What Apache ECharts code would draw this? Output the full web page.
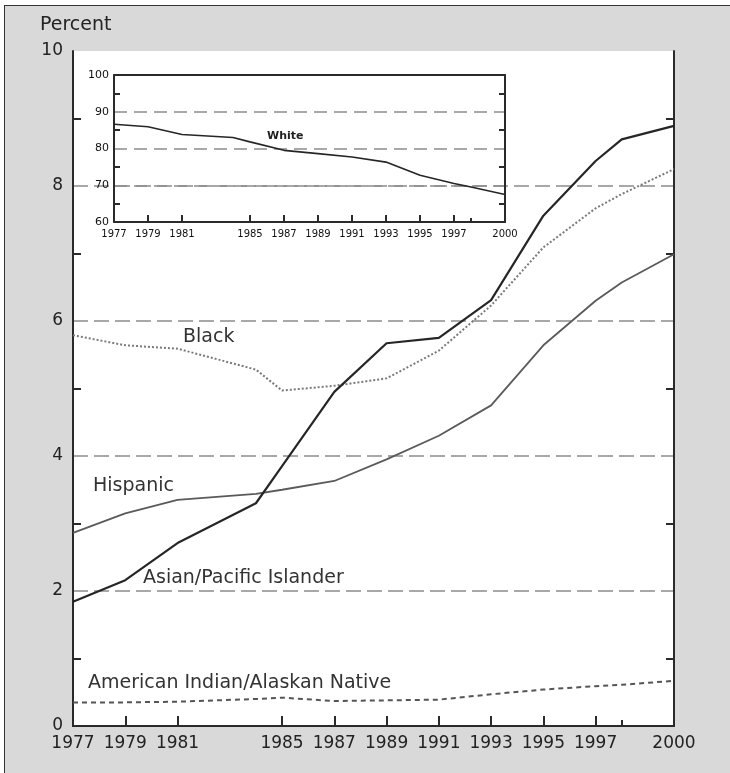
<!DOCTYPE html>
<html><head><meta charset="utf-8">
<script src="https://cdn.jsdelivr.net/npm/echarts@6/dist/echarts.min.js"></script>
<style>
html,body{margin:0;padding:0;background:#fff;overflow:hidden;width:730px;height:773px;}
#frame{position:absolute;left:4px;top:5px;width:740px;height:790px;background:#d9d9d9;border-left:1.5px solid #333;border-top:1.5px solid #333;}
#chart{position:absolute;left:0;top:0;width:730px;height:773px;}
</style></head>
<body><div id="frame"></div><div id="chart"></div>
<script>
// ---- data ----
const years = [1977, 1979, 1981, 1984, 1985, 1987, 1989, 1991, 1993, 1995, 1997, 1998, 2000];
const asianPacific = [1.84, 2.16, 2.71, 3.30, 3.85, 4.95, 5.67, 5.75, 6.31, 7.56, 8.37, 8.69, 8.89];
const hispanic     = [2.86, 3.15, 3.35, 3.44, 3.50, 3.63, 3.95, 4.30, 4.75, 5.64, 6.30, 6.57, 6.99];
const black        = [5.79, 5.64, 5.59, 5.28, 4.97, 5.04, 5.15, 5.56, 6.23, 7.09, 7.67, 7.88, 8.25];
const amIndian     = [0.35, 0.35, 0.36, 0.40, 0.42, 0.37, 0.38, 0.39, 0.47, 0.54, 0.59, 0.61, 0.67];
const white        = [86.6, 85.9, 83.8, 83.0, 81.8, 79.5, 78.6, 77.7, 76.3, 72.7, 70.5, 69.5, 67.5];

const yearLabels = [1977, 1979, 1981, 1985, 1987, 1989, 1991, 1993, 1995, 1997, 2000];
const yearTicks  = [1979, 1981, 1985, 1987, 1989, 1991, 1993, 1995, 1997];
const shortYearTicks = [1998];
const mainMinorTicks = [1, 3, 5, 7, 9];
const insetMinorTicks = [65, 75, 85, 95];

function pairs(xs, ys) { return xs.map((x, i) => [x, ys[i]]); }

const FONT = '"DejaVu Sans", sans-serif';
const AX = { color: '#2a2a2a', width: 2 };
const chart = echarts.init(document.getElementById('chart'), null, { renderer: 'canvas' });

const option = {
  backgroundColor: 'transparent',
  animation: false,
  grid: [
    { left: 73, top: 51, width: 601, height: 675, show: true, backgroundColor: '#fff', borderWidth: 0 },
    { left: 114, top: 75, width: 391, height: 147, show: false }
  ],
  xAxis: [
    { type: 'value', gridIndex: 0, min: 1977, max: 2000, position: 'bottom',
      axisLine: { show: true, lineStyle: AX },
      axisTick: { show: true, inside: true, length: 10, customValues: yearTicks, lineStyle: AX },
      axisLabel: { show: true, customValues: yearLabels, fontSize: 17, fontFamily: FONT, color: '#222', margin: 9, formatter: v => String(v) },
      splitLine: { show: false } },
    { type: 'value', gridIndex: 0, min: 1977, max: 2000, position: 'bottom',
      axisLine: { show: false },
      axisTick: { show: true, inside: true, length: 6, customValues: shortYearTicks, lineStyle: AX },
      axisLabel: { show: false }, splitLine: { show: false } },
    { type: 'value', gridIndex: 0, min: 1977, max: 2000, position: 'top',
      axisLine: { show: true, lineStyle: AX }, axisTick: { show: false },
      axisLabel: { show: false }, splitLine: { show: false } },
    { type: 'value', gridIndex: 1, min: 1977, max: 2000, position: 'bottom',
      axisLine: { show: true, lineStyle: AX },
      axisTick: { show: true, inside: true, length: 7, customValues: yearTicks, lineStyle: AX },
      axisLabel: { show: true, customValues: yearLabels, fontSize: 10, fontFamily: FONT, color: '#111', margin: 7, formatter: v => String(v) },
      splitLine: { show: false } },
    { type: 'value', gridIndex: 1, min: 1977, max: 2000, position: 'bottom',
      axisLine: { show: false },
      axisTick: { show: true, inside: true, length: 4, customValues: shortYearTicks, lineStyle: AX },
      axisLabel: { show: false }, splitLine: { show: false } },
    { type: 'value', gridIndex: 1, min: 1977, max: 2000, position: 'top',
      axisLine: { show: true, lineStyle: AX }, axisTick: { show: false },
      axisLabel: { show: false }, splitLine: { show: false } }
  ],
  yAxis: [
    { type: 'value', gridIndex: 0, min: 0, max: 10, interval: 2, position: 'left',
      axisLine: { show: true, lineStyle: AX }, axisTick: { show: false },
      axisLabel: { fontSize: 17, fontFamily: FONT, color: '#222', margin: 10 },
      splitLine: { show: true, showMinLine: false, showMaxLine: false, lineStyle: { color: '#8c8c8c', width: 1.5, type: [15, 6] } } },
    { type: 'value', gridIndex: 0, min: 0, max: 10, interval: 1, position: 'left',
      axisLine: { show: false },
      axisTick: { show: true, inside: true, length: 8, customValues: mainMinorTicks, lineStyle: AX },
      axisLabel: { show: false }, splitLine: { show: false } },
    { type: 'value', gridIndex: 0, min: 0, max: 10, interval: 1, position: 'right',
      axisLine: { show: true, lineStyle: AX },
      axisTick: { show: true, inside: true, length: 8, customValues: mainMinorTicks, lineStyle: AX },
      axisLabel: { show: false }, splitLine: { show: false } },
    { type: 'value', gridIndex: 1, min: 60, max: 100, interval: 10, position: 'left',
      axisLine: { show: true, lineStyle: AX }, axisTick: { show: false },
      axisLabel: { fontSize: 11, fontFamily: FONT, color: '#111', margin: 5 },
      splitLine: { show: true, showMinLine: false, showMaxLine: false, lineStyle: { color: '#8c8c8c', width: 1.5, type: [13, 7] } } },
    { type: 'value', gridIndex: 1, min: 60, max: 100, interval: 5, position: 'left',
      axisLine: { show: false },
      axisTick: { show: true, inside: true, length: 6, customValues: insetMinorTicks, lineStyle: AX },
      axisLabel: { show: false }, splitLine: { show: false } },
    { type: 'value', gridIndex: 1, min: 60, max: 100, interval: 5, position: 'right',
      axisLine: { show: true, lineStyle: AX },
      axisTick: { show: true, inside: true, length: 6, customValues: insetMinorTicks, lineStyle: AX },
      axisLabel: { show: false }, splitLine: { show: false } }
  ],
  series: [
    { name: 'American Indian/Alaskan Native', type: 'line', xAxisIndex: 0, yAxisIndex: 0,
      data: pairs(years, amIndian), symbol: 'none',
      lineStyle: { color: '#555', width: 2, type: [5, 4] } },
    { name: 'Hispanic', type: 'line', xAxisIndex: 0, yAxisIndex: 0,
      data: pairs(years, hispanic), symbol: 'none',
      lineStyle: { color: '#5a5a5a', width: 1.8 } },
    { name: 'Black', type: 'line', xAxisIndex: 0, yAxisIndex: 0,
      data: pairs(years, black), symbol: 'none',
      lineStyle: { color: '#7a7a7a', width: 2, type: [2, 2] } },
    { name: 'Asian/Pacific Islander', type: 'line', xAxisIndex: 0, yAxisIndex: 0,
      data: pairs(years, asianPacific), symbol: 'none',
      lineStyle: { color: '#262626', width: 2.2 } },
    { name: 'White', type: 'line', xAxisIndex: 3, yAxisIndex: 3,
      data: pairs(years, white), symbol: 'none',
      lineStyle: { color: '#262626', width: 1.6 } }
  ],
  graphic: [
    { type: 'text', x: 40, y: 25, style: { text: 'Percent', font: '19px ' + FONT, fill: '#222', verticalAlign: 'middle' } },
    { type: 'text', x: 183, y: 337, style: { text: 'Black', font: '19px ' + FONT, fill: '#333', verticalAlign: 'middle' } },
    { type: 'text', x: 93, y: 486, style: { text: 'Hispanic', font: '19px ' + FONT, fill: '#333', verticalAlign: 'middle' } },
    { type: 'text', x: 143, y: 578, style: { text: 'Asian/Pacific Islander', font: '19px ' + FONT, fill: '#333', verticalAlign: 'middle' } },
    { type: 'text', x: 88, y: 683, style: { text: 'American Indian/Alaskan Native', font: '19px ' + FONT, fill: '#333', verticalAlign: 'middle' } },
    { type: 'text', x: 267, y: 136, style: { text: 'White', font: 'bold 11px ' + FONT, fill: '#222', verticalAlign: 'middle' } }
  ]
};
chart.setOption(option);
</script>
</body></html>
